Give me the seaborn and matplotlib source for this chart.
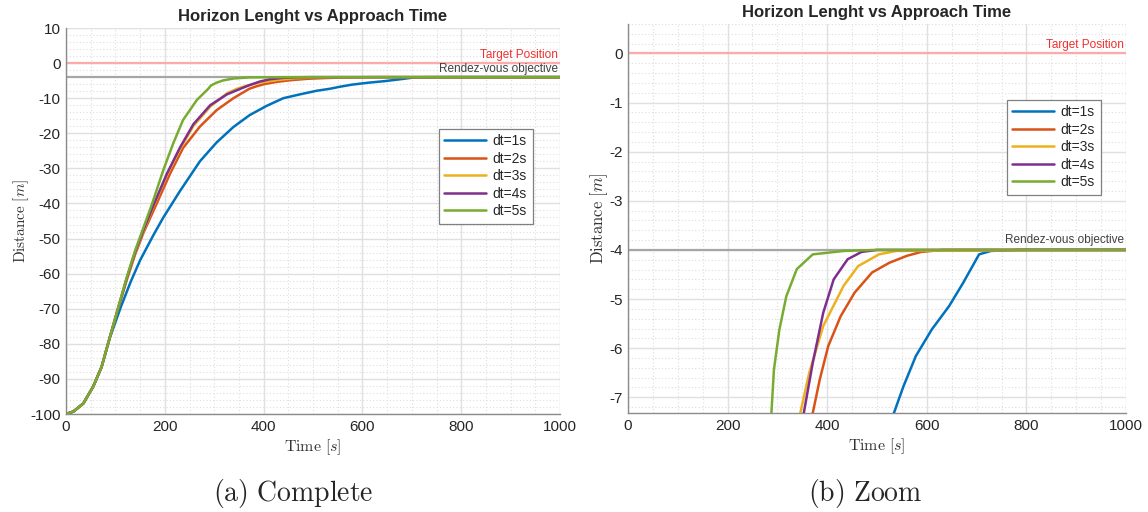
import numpy as np
import pandas as pd
import matplotlib
matplotlib.use("Agg")
import matplotlib.pyplot as plt
import seaborn as sns
from matplotlib.ticker import MultipleLocator

# ---------------- data ----------------
series_names = ["dt=1s", "dt=2s", "dt=3s", "dt=4s", "dt=5s"]

t_dt1 = [0, 15, 35, 55, 72, 89, 111, 131, 150, 177, 197, 231, 271, 305, 339, 372, 406,
         440, 474, 507, 534, 553, 578, 610, 645, 673, 705, 729, 785, 1000]
d_dt1 = [-100, -99.3, -97, -92.2, -86.6, -78.2, -69.5, -62.3, -56.2, -49.0, -44.0, -36.4,
         -28.0, -22.6, -18.2, -14.8, -12.2, -10.0, -8.9, -7.9, -7.32, -6.78, -6.16, -5.62,
         -5.14, -4.67, -4.09, -4.02, -4.0, -4.0]

t_dt2 = [0, 15, 35, 55, 72, 89, 106, 123, 140, 157, 184, 211, 237, 271, 305, 339, 371,
         385, 402, 427, 455, 490, 525, 560, 589, 631, 1000]
d_dt2 = [-100, -99.3, -97, -92.2, -86.6, -78, -69.8, -61.8, -54.5, -48.3, -39.9, -31.4,
         -24.2, -18.1, -13.4, -10.0, -7.32, -6.64, -5.96, -5.35, -4.87, -4.46, -4.26, -4.12,
         -4.04, -4.0, -4.0]

t_dt3 = [0, 15, 35, 55, 72, 89, 106, 123, 140, 157, 177, 204, 231, 258, 292, 326, 346,
         364, 392, 433, 462, 504, 539, 1000]
d_dt3 = [-100, -99.3, -97, -92.2, -86.6, -78, -69.6, -61.4, -54.0, -47.8, -40.8, -32.0,
         -24.5, -17.9, -12.4, -8.6, -7.32, -6.5, -5.55, -4.73, -4.33, -4.09, -4.02, -4.0]

t_dt4 = [0, 15, 35, 55, 72, 89, 106, 123, 140, 157, 177, 204, 231, 258, 292, 326, 353,
         371, 392, 413, 441, 469, 500, 1000]
d_dt4 = [-100, -99.3, -97, -92.2, -86.6, -78, -69.6, -61.3, -53.8, -47.5, -40.5, -31.6,
         -24.0, -17.4, -12.0, -8.9, -7.32, -6.3, -5.28, -4.6, -4.19, -4.04, -4.0, -4.0]

t_dt5 = [0, 15, 35, 55, 72, 89, 106, 123, 140, 157, 174, 197, 217, 237, 265, 288, 293,
         304, 318, 339, 371, 434, 500, 1000]
d_dt5 = [-100, -99.3, -97, -92.2, -86.6, -78, -69.5, -61, -53.4, -46.8, -40.2, -30.5,
         -22.9, -16.2, -10.5, -7.32, -6.44, -5.62, -4.94, -4.39, -4.09, -4.02, -4.0, -4.0]

target_position = 0.0
rendezvous_objective = -4.0

left_yticks = [10, 0, -10, -20, -30, -40, -50, -60, -70, -80, -90, -100]
right_yticks = [0, -1, -2, -3, -4, -5, -6, -7]
xticks = [0, 200, 400, 600, 800, 1000]

title_text = "Horizon Lenght vs Approach Time"
captions = ["(a) Complete", "(b) Zoom"]

# ---------------- build long-form table ----------------
frames = []
for name, t, d in zip(series_names,
                      [t_dt1, t_dt2, t_dt3, t_dt4, t_dt5],
                      [d_dt1, d_dt2, d_dt3, d_dt4, d_dt5]):
    frames.append(pd.DataFrame({"Time": t, "Distance": d, "Horizon": name}))
df = pd.concat(frames, ignore_index=True)

palette = {"dt=1s": "#0072BD", "dt=2s": "#D95319", "dt=3s": "#EDB120",
           "dt=4s": "#7E2F8E", "dt=5s": "#77AC30"}

# ---------------- style ----------------
sns.set_style("white")
plt.rcParams["font.family"] = ["Liberation Sans", "DejaVu Sans"]
plt.rcParams["mathtext.fontset"] = "cm"
plt.rcParams["axes.unicode_minus"] = False

fig = plt.figure(figsize=(11.48, 5.12), dpi=100)
W, H = 1148, 512
ax1 = fig.add_axes([66 / W, 1 - 414 / H, (560 - 66) / W, (414 - 28) / H])
ax2 = fig.add_axes([628 / W, 1 - 413 / H, (1126 - 628) / W, (413 - 24) / H])

tick_color = "#262626"


def style_axes(ax, ylim, yticks, yminor, legend_anchor, tp_y, rv_y, ylab_size, ylab_pad):
    ax.set_axisbelow(True)
    ax.axhline(target_position, color="#ffaaaa", lw=1.6, zorder=1)
    ax.axhline(rendezvous_objective, color="#a6a6a6", lw=1.6, zorder=1)
    sns.lineplot(data=df, x="Time", y="Distance", hue="Horizon", palette=palette,
                 hue_order=series_names, estimator=None, sort=True, lw=1.8, ax=ax,
                 zorder=3)
    ax.set_xlim(0, 1000)
    ax.set_ylim(*ylim)
    ax.set_xticks(xticks)
    ax.set_yticks(yticks)
    ax.xaxis.set_minor_locator(MultipleLocator(50))
    ax.yaxis.set_minor_locator(MultipleLocator(yminor))
    ax.grid(which="major", color="#e0e0e0", lw=1.0)
    ax.grid(which="minor", color="#dedede", lw=0.8, ls=(0, (1, 2)))
    ax.tick_params(axis="both", which="major", labelsize=11, colors=tick_color,
                   length=3, direction="in", pad=4)
    ax.tick_params(axis="both", which="minor", length=0)
    for s in ["top", "right"]:
        ax.spines[s].set_visible(False)
    for s in ["left", "bottom"]:
        ax.spines[s].set_color("#8c8c8c")
        ax.spines[s].set_linewidth(1.0)
    ax.set_title(title_text, fontsize=12, fontweight="bold", pad=5)
    ax.set_xlabel(r"$\mathrm{Time}\ [s]$", fontsize=11.5, labelpad=3, color="#333333")
    ax.set_ylabel(r"$\mathrm{Distance}\ [m]$", fontsize=ylab_size, labelpad=ylab_pad,
                  color="#333333")
    ax.text(0.995, tp_y, "Target Position", transform=ax.get_yaxis_transform(),
            ha="right", va="bottom", fontsize=8.5, color="#f23030")
    ax.text(0.995, rv_y, "Rendez-vous objective", transform=ax.get_yaxis_transform(),
            ha="right", va="bottom", fontsize=8.5, color="#404040")
    handles, labels = ax.get_legend_handles_labels()
    leg = ax.legend(handles, labels, loc="upper right", bbox_to_anchor=legend_anchor,
                    fontsize=10, handlelength=3.0, handletextpad=0.5,
                    labelspacing=0.25, borderpad=0.4, fancybox=False,
                    framealpha=1.0, edgecolor="#808080")
    leg.get_frame().set_linewidth(0.9)


style_axes(ax1, (-100, 10), left_yticks, 2, (0.959, 0.757), 0.6, -3.4, 11, -1)
style_axes(ax2, (-7.32, 0.6), right_yticks, 0.2, (0.963, 0.823), 0.05, -3.93, 12, -1)

fig.text(293 / W, 1 - 493 / H, r"$\mathrm{(a)\ Complete}$", ha="center", va="center",
         fontsize=20)
fig.text(865 / W, 1 - 493 / H, r"$\mathrm{(b)\ Zoom}$", ha="center", va="center",
         fontsize=20)

fig.savefig("out.png", dpi=100)
